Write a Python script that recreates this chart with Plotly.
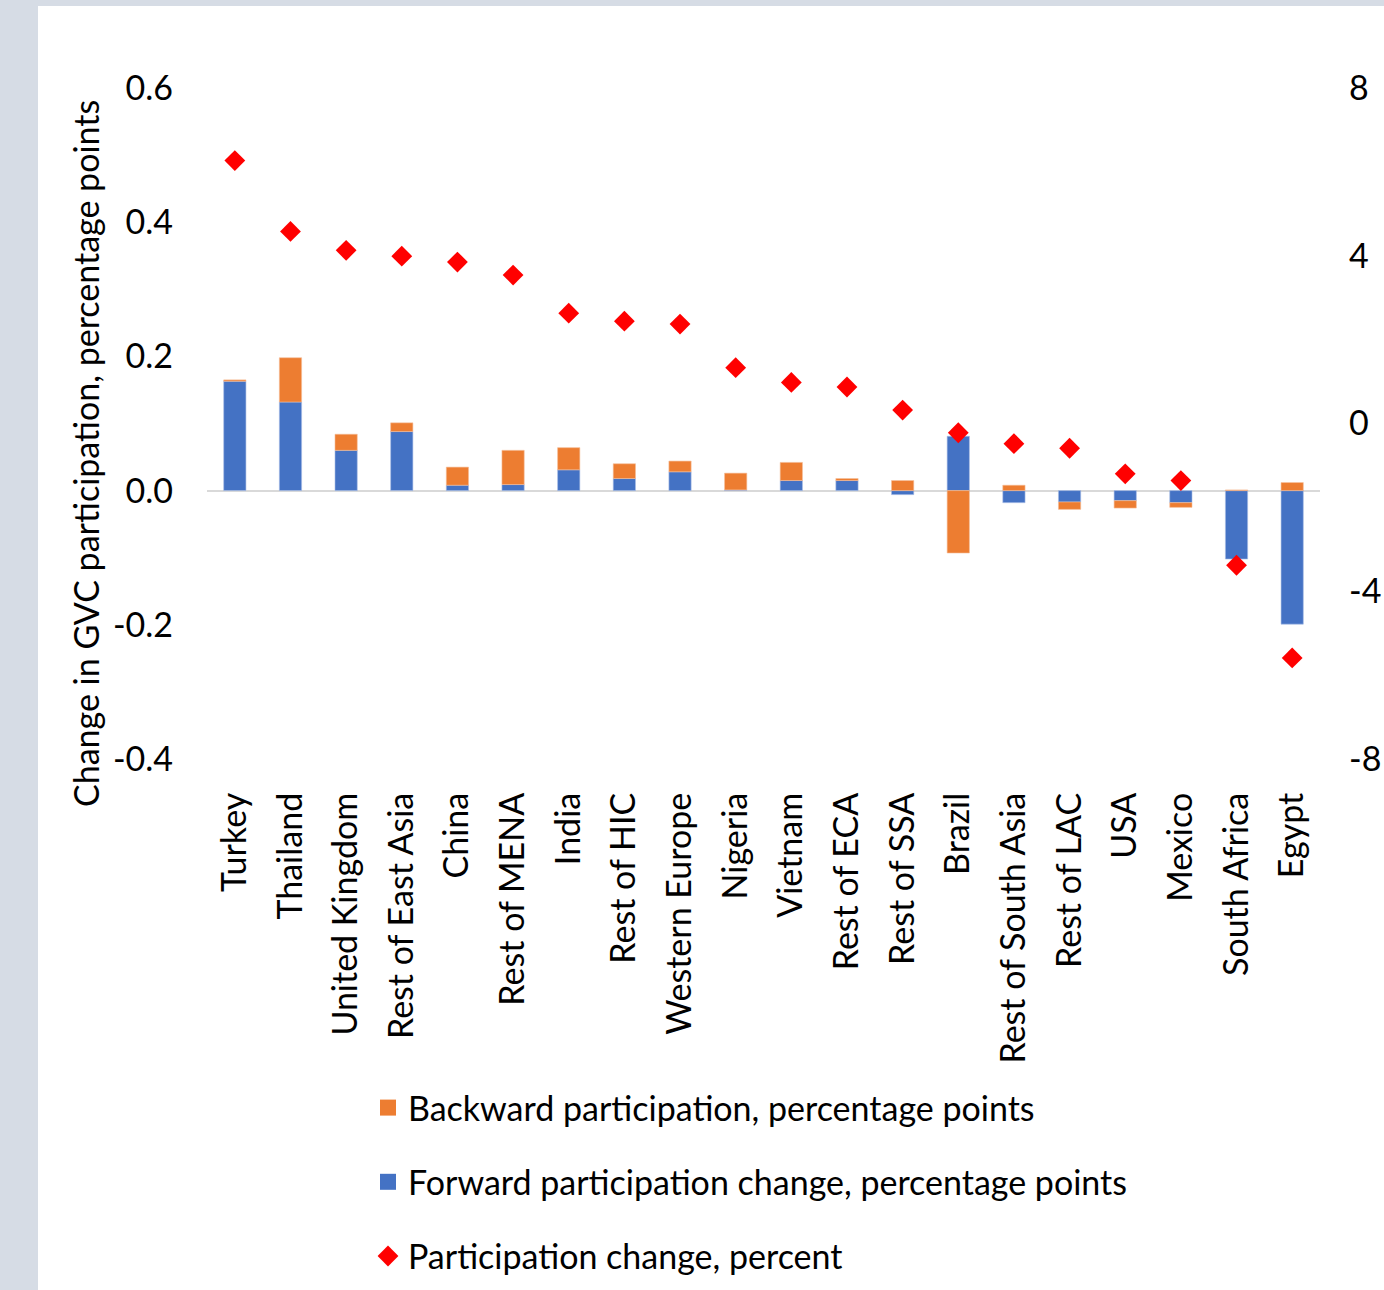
import plotly.graph_objects as go

categories = ["Turkey", "Thailand", "United Kingdom", "Rest of East Asia", "China",
              "Rest of MENA", "India", "Rest of HIC", "Western Europe", "Nigeria",
              "Vietnam", "Rest of ECA", "Rest of SSA", "Brazil", "Rest of South Asia",
              "Rest of LAC", "USA", "Mexico", "South Africa", "Egypt"]

forward = [0.163, 0.132, 0.060, 0.088, 0.008, 0.009, 0.031, 0.018, 0.028, 0.001,
           0.015, 0.015, -0.006, 0.081, -0.018, -0.017, -0.015, -0.018, -0.102, -0.199]
backward = [0.002, 0.066, 0.024, 0.013, 0.027, 0.051, 0.033, 0.022, 0.016, 0.025,
            0.027, 0.003, 0.015, -0.093, 0.008, -0.011, -0.011, -0.007, 0.001, 0.012]
participation_pct = [6.27, 4.58, 4.13, 3.99, 3.85, 3.54, 2.63, 2.44, 2.37, 1.33,
                     0.98, 0.87, 0.32, -0.22, -0.48, -0.59, -1.20, -1.36, -3.38, -5.59]

left_ticks = [-0.4, -0.2, 0.0, 0.2, 0.4, 0.6]
left_tick_text = ["-0.4", "-0.2", "0.0", "0.2", "0.4", "0.6"]
right_ticks = [-8, -4, 0, 4, 8]
right_tick_text = ["-8", "-4", "0", "4", "8"]

FONT = "Lato"
W, H = 1384, 1290
L, R, T, B = 207, 64, 88, 531
pw, ph = W - L - R, H - T - B
BLUE, ORANGE, RED = "#4472C4", "#ED7D31", "#FF0000"
NAME_B = "Backward participation, percentage points"
NAME_F = "Forward participation change, percentage points"
NAME_P = "Participation change, percent"

def px_x(x):
    return (x - L) / pw

def px_y(y):
    return (H - B - y) / ph

fig = go.Figure()
fig.add_trace(go.Bar(x=categories, y=forward, name=NAME_F, showlegend=False,
                     marker=dict(color=BLUE, line=dict(width=0.6, color="#A9BDE5"))))
fig.add_trace(go.Bar(x=categories, y=backward, name=NAME_B, showlegend=False,
                     marker=dict(color=ORANGE, line=dict(width=0.6, color="#F5BE98"))))
fig.add_trace(go.Scatter(x=categories, y=participation_pct, name=NAME_P,
                         mode="markers", yaxis="y2",
                         marker=dict(symbol="diamond", size=16, color=RED),
                         legendrank=3, legendgroup="p"))
# legend-only entries with larger square swatches
fig.add_trace(go.Scatter(x=[None], y=[None], name=NAME_B, mode="markers",
                         marker=dict(symbol="square", size=16, color=ORANGE),
                         legendrank=1, legendgroup="b"))
fig.add_trace(go.Scatter(x=[None], y=[None], name=NAME_F, mode="markers",
                         marker=dict(symbol="square", size=16, color=BLUE),
                         legendrank=2, legendgroup="f"))

fig.update_layout(
    width=W, height=H,
    margin=dict(l=L, r=R, t=T, b=B, pad=0, autoexpand=False),
    paper_bgcolor="#D6DCE5",
    plot_bgcolor="white",
    barmode="relative",
    bargap=0.6,
    font=dict(family=FONT, color="black"),
    xaxis=dict(range=[-0.5, len(categories) - 0.5], showgrid=False, showline=False, ticks="",
               automargin=False,
               tickangle=-90, tickfont=dict(size=34, family=FONT), ticklabelstandoff=26),
    yaxis=dict(range=[-0.4, 0.6], tickvals=left_ticks, ticktext=left_tick_text, automargin=False,
               showgrid=False, zeroline=True, zerolinecolor="#D9D9D9", zerolinewidth=2,
               showline=False, tickfont=dict(size=34, family=FONT), ticklabelstandoff=33),
    yaxis2=dict(range=[-8, 8], tickvals=right_ticks, ticktext=right_tick_text, automargin=False,
                overlaying="y", side="right", showgrid=False, zeroline=False, showline=False,
                tickfont=dict(size=34, family=FONT), ticklabelstandoff=28),
    legend=dict(orientation="v", x=px_x(368), xanchor="left", y=px_y(1079), yanchor="top",
                font=dict(size=34, family=FONT), tracegroupgap=27, bgcolor="rgba(0,0,0,0)"),
    shapes=[dict(type="rect", xref="paper", yref="paper", layer="below",
                 x0=px_x(38), x1=px_x(1400), y0=px_y(1300), y1=px_y(6),
                 fillcolor="white", line=dict(width=0))],
    annotations=[dict(text="Change in GVC participation, percentage points", textangle=-90,
                      xref="paper", yref="paper", x=px_x(85), y=px_y(454),
                      xanchor="center", yanchor="middle", showarrow=False,
                      font=dict(size=34, family=FONT, color="black"))],
)

fig.write_html("out.html", config={"displayModeBar": False},
               post_script="document.body.style.margin='0';document.body.style.overflow='hidden';")
